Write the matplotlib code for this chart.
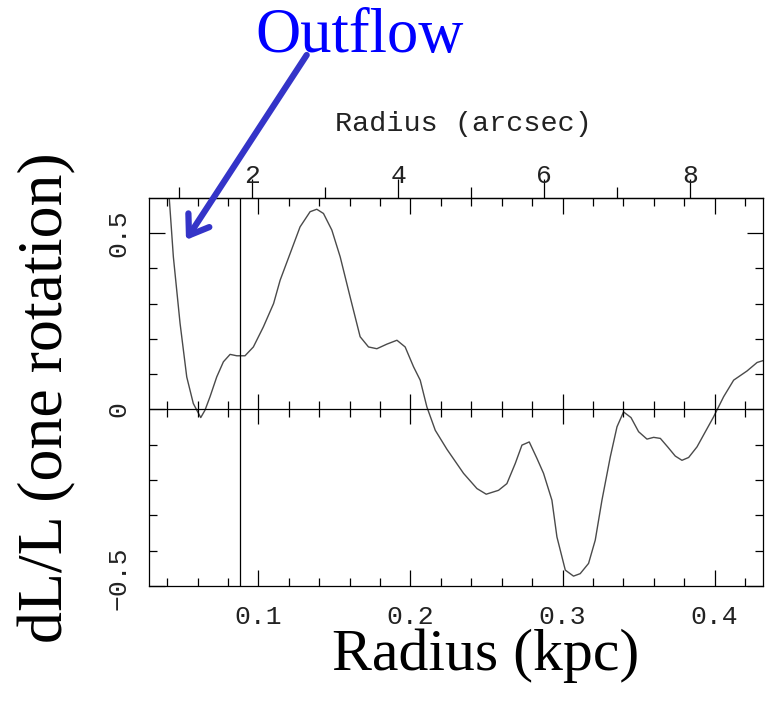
import numpy as np
import matplotlib
matplotlib.use("Agg")
import matplotlib.pyplot as plt
from matplotlib.ticker import MultipleLocator, FixedLocator
from matplotlib.transforms import ScaledTranslation

# --- profile data -------------------------------------------------------
radius_kpc = [
    0.0414, 0.0441, 0.0485, 0.0529, 0.0572, 0.0595, 0.0621, 0.0649, 0.0682,
    0.0726, 0.0770, 0.0814, 0.0858, 0.0912, 0.0967, 0.1033, 0.1100, 0.1143,
    0.1209, 0.1274, 0.1340, 0.1384, 0.1428, 0.1483, 0.1538, 0.1603, 0.1669,
    0.1724, 0.1779, 0.1845, 0.1911, 0.1965, 0.2020, 0.2064, 0.2108, 0.2163,
    0.2240, 0.2349, 0.2437, 0.2498, 0.2579, 0.2634, 0.2689, 0.2733, 0.2781,
    0.2832, 0.2875, 0.2930, 0.2963, 0.3018, 0.3072, 0.3116, 0.3171, 0.3215,
    0.3259, 0.3314, 0.3358, 0.3401, 0.3450, 0.3500, 0.3555, 0.3599, 0.3643,
    0.3691, 0.3741, 0.3785, 0.3829, 0.3884, 0.3939, 0.3993, 0.4059, 0.4125,
    0.4213, 0.4279, 0.4316,
]
dL_over_L = [
    0.598, 0.432, 0.244, 0.092, 0.017, -0.002, -0.023, -0.002, 0.036,
    0.092, 0.135, 0.156, 0.152, 0.152, 0.177, 0.234, 0.300, 0.366,
    0.442, 0.517, 0.560, 0.567, 0.555, 0.508, 0.432, 0.319, 0.206,
    0.177, 0.172, 0.185, 0.196, 0.177, 0.121, 0.083, 0.007, -0.059,
    -0.113, -0.181, -0.224, -0.240, -0.229, -0.210, -0.153, -0.101, -0.092,
    -0.139, -0.181, -0.257, -0.361, -0.455, -0.472, -0.465, -0.436, -0.370,
    -0.257, -0.134, -0.049, -0.007, -0.023, -0.063, -0.084, -0.079, -0.082,
    -0.106, -0.132, -0.144, -0.136, -0.106, -0.063, -0.021, 0.036, 0.083,
    0.109, 0.133, 0.138,
]

kpc_per_arcsec = 0.048
marker_radius = 0.088          # vertical reference line
outflow_tip = (0.0524, 0.48)   # where the arrow points

x_major = [0.1, 0.2, 0.3, 0.4]
x_minor = np.arange(0.04, 0.44, 0.02)
arcsec_major = [2, 4, 6, 8]
arcsec_minor = [1, 3, 5, 7]

TICK_FONT = "Liberation Mono"
LABEL_FONT = "Liberation Serif"

fig = plt.figure(figsize=(7.67, 7.11), dpi=100)
ax = fig.add_axes([0.1947, 0.1758, 0.7997, 0.5453])

ax.plot(radius_kpc, dL_over_L, color="#4a4a4a", lw=1.0)
ax.axvline(marker_radius, color="black", lw=0.9)
ax.axhline(0, color="black", lw=0.9)

# ticks crossing the zero line
zero_minor = [v for v in x_minor if min(abs(v - m) for m in x_major) > 1e-6]
ax.plot(zero_minor, np.zeros(len(zero_minor)), ls="none", marker="|",
        ms=11, mew=0.9, color="black")
ax.plot(x_major, np.zeros(len(x_major)), ls="none", marker="|",
        ms=22, mew=0.9, color="black")

ax.set_xlim(0.0283, 0.4316)
ax.set_ylim(-0.5, 0.598)

ax.xaxis.set_major_locator(FixedLocator(x_major))
ax.xaxis.set_minor_locator(FixedLocator(x_minor))
ax.yaxis.set_major_locator(FixedLocator([-0.5, 0, 0.5]))
ax.yaxis.set_minor_locator(MultipleLocator(0.1))
ax.set_xticklabels(["0.1", "0.2", "0.3", "0.4"])
ax.set_yticklabels(["\u22120.5", "0", "0.5"])

ax.tick_params(which="both", direction="in", top=True, right=True,
               width=0.9, color="black")
ax.tick_params(which="major", length=11.5)
ax.tick_params(which="minor", length=5.8)
ax.tick_params(axis="x", pad=13.5)
ax.tick_params(axis="y", pad=13.5)
for lab in ax.get_xticklabels() + ax.get_yticklabels():
    lab.set_fontfamily(TICK_FONT)
    lab.set_fontsize(19)
    lab.set_color("#222222")
for lab in ax.get_yticklabels():
    lab.set_rotation(90)
    lab.set_va("center")
# nudge the lowest y label up a little
low = ax.get_yticklabels()[0]
low.set_transform(low.get_transform() + ScaledTranslation(0, 8 / 100, fig.dpi_scale_trans))

for sp in ax.spines.values():
    sp.set_linewidth(0.9)

# upper axis in arcsec
sec = ax.secondary_xaxis("top", functions=(lambda k: k / kpc_per_arcsec,
                                            lambda a: a * kpc_per_arcsec))
sec.xaxis.set_major_locator(FixedLocator(arcsec_major))
sec.xaxis.set_minor_locator(FixedLocator(arcsec_minor))
sec.set_xticklabels([str(v) for v in arcsec_major])
sec.tick_params(which="both", direction="out", width=0.9)
sec.tick_params(which="major", length=13.7, pad=-6.5)
sec.tick_params(which="minor", length=8)
sec.spines["top"].set_linewidth(0.9)
for lab in sec.get_xticklabels():
    lab.set_fontfamily(TICK_FONT)
    lab.set_fontsize(19)
    lab.set_color("#222222")

fig.text(463 / 767, 1 - 124 / 711, "Radius (arcsec)", family=TICK_FONT,
         fontsize=20.5, ha="center", va="center", color="#222222")

# axis titles
fig.text(486 / 767, 1 - 670 / 711, "Radius (kpc)", family=LABEL_FONT,
         fontsize=43, ha="center", va="baseline")
fig.text(47.5 / 767, 1 - 398 / 711, "dL/L (one rotation)", family=LABEL_FONT,
         fontsize=46, rotation=90, ha="center", va="center")

# outflow callout
fig.text(360 / 767, 1 - 52 / 711, "Outflow", family=LABEL_FONT, fontsize=45,
         color="#0000ff", ha="center", va="baseline")
ax.annotate("", xy=outflow_tip, xycoords="data",
            xytext=(306.7 / 767, 1 - 55 / 711), textcoords="figure fraction",
            annotation_clip=False,
            arrowprops=dict(arrowstyle="->,head_length=1.3,head_width=0.9",
                            mutation_scale=10, lw=4.5, color="#3434c8",
                            shrinkA=0, shrinkB=0, capstyle="round"))

fig.savefig("out.png", dpi=100)
